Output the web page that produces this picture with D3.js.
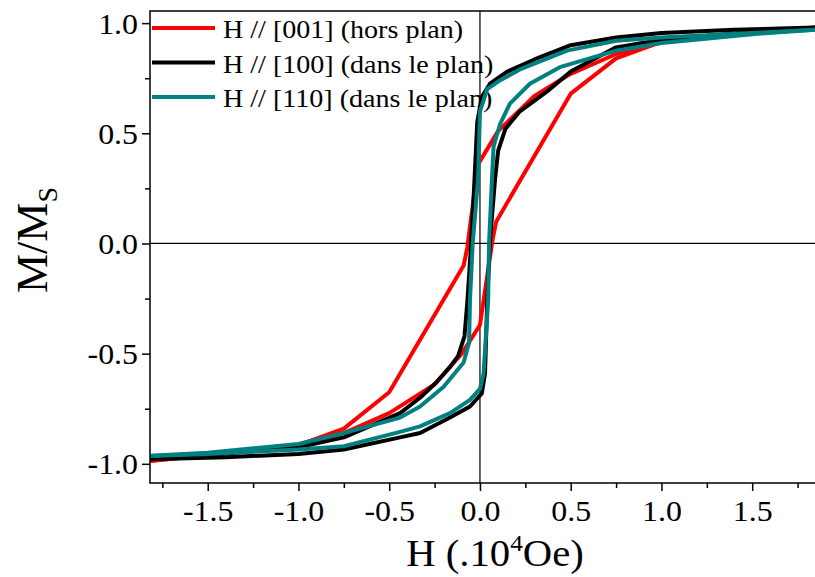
<!DOCTYPE html>
<html><head><meta charset="utf-8">
<script src="https://cdn.jsdelivr.net/npm/d3@7"></script>
<style>body{margin:0;background:#fff}svg{display:block}text{font-family:"Liberation Serif","Times New Roman",serif;fill:#000}</style>
</head><body>
<svg id="c" width="815" height="577"></svg>
<script>
// ---- data ----
const seriesNames = ["H // [001] (hors plan)", "H // [100] (dans le plan)", "H // [110] (dans le plan)"];
const seriesColors = ["#ff0000", "#000000", "#008080"];
const xTicks = [-1.5, -1.0, -0.5, 0.0, 0.5, 1.0, 1.5];
const xMinor = [-1.75, -1.25, -0.75, -0.25, 0.25, 0.75, 1.25, 1.75];
const yTicks = [-1.0, -0.5, 0.0, 0.5, 1.0];
const yMinor = [-0.75, -0.25, 0.25, 0.75];

const redDown = [[1.85,0.975],[1.5,0.955],[1.0,0.915],[0.75,0.86],[0.5,0.77],[0.3,0.67],[0.1,0.51],[-0.01,0.36],[-0.07,-0.02],[-0.09,-0.1],[-0.5,-0.675],[-0.75,-0.84],[-1.0,-0.915],[-1.5,-0.96],[-1.85,-0.99]];
const redUp = [[-1.85,-0.99],[-1.5,-0.96],[-1.0,-0.915],[-0.75,-0.86],[-0.5,-0.77],[-0.25,-0.64],[-0.1,-0.5],[0.0,-0.37],[0.07,0.02],[0.09,0.1],[0.5,0.68],[0.75,0.84],[1.0,0.915],[1.5,0.955],[1.85,0.975]];
const blackDown = [[1.85,0.98],[1.4,0.97],[1.0,0.955],[0.75,0.935],[0.5,0.9],[0.3,0.835],[0.15,0.78],[0.055,0.725],[0.01,0.665],[-0.015,0.55],[-0.03,0.29],[-0.05,-0.02],[-0.07,-0.27],[-0.085,-0.42],[-0.12,-0.51],[-0.165,-0.56],[-0.24,-0.63],[-0.33,-0.70],[-0.44,-0.77],[-0.75,-0.88],[-1.0,-0.925],[-1.5,-0.96],[-1.85,-0.98]];
const blackUp = [[-1.85,-0.98],[-1.4,-0.97],[-1.0,-0.955],[-0.75,-0.935],[-0.44,-0.88],[-0.33,-0.86],[-0.165,-0.79],[-0.055,-0.74],[0.01,-0.68],[0.028,-0.59],[0.04,-0.26],[0.055,0.01],[0.083,0.29],[0.1,0.42],[0.14,0.52],[0.22,0.6],[0.37,0.69],[0.5,0.78],[0.75,0.89],[1.0,0.925],[1.5,0.96],[1.85,0.98]];
const tealDown = [[1.85,0.97],[1.5,0.955],[1.0,0.935],[0.75,0.92],[0.48,0.875],[0.22,0.79],[0.11,0.74],[0.04,0.7],[0.0,0.6],[-0.01,0.3],[-0.04,0.0],[-0.055,-0.26],[-0.06,-0.45],[-0.09,-0.54],[-0.15,-0.6],[-0.2,-0.65],[-0.33,-0.74],[-0.44,-0.79],[-0.75,-0.86],[-1.0,-0.91],[-1.5,-0.95],[-1.85,-0.965]];
const tealUp = [[-1.85,-0.965],[-1.5,-0.955],[-1.0,-0.935],[-0.75,-0.92],[-0.44,-0.855],[-0.33,-0.83],[-0.165,-0.77],[-0.055,-0.71],[0.0,-0.66],[0.02,-0.59],[0.045,-0.26],[0.05,0.0],[0.066,0.29],[0.075,0.44],[0.11,0.54],[0.165,0.635],[0.275,0.725],[0.44,0.8],[0.75,0.875],[1.0,0.91],[1.5,0.95],[1.85,0.97]];

const loops = [[redDown, redUp], [blackDown, blackUp], [tealDown, tealUp]];

// ---- layout ----
const L = 150, R = 815, T = 11, B = 483;
const svg = d3.select("#c");
const x = d3.scaleLinear().domain([-1.818, 1.846]).range([L, R]);
const y = d3.scaleLinear().domain([-1.087, 1.055]).range([B, T]);
const SX = 1.1;
const fmt = d => d3.format(".1f")(d).replace("\u2212", "-");

function stretched(sel, px, py, anchor, size, sx) {
  return sel.append("text")
    .attr("transform", `translate(${px},${py}) scale(${sx},1)`)
    .attr("text-anchor", anchor).attr("font-size", size)
    .style("font-family", '"Liberation Serif","Times New Roman",serif');
}

svg.append("defs").append("clipPath").attr("id", "clip")
  .append("rect").attr("x", L).attr("y", T).attr("width", R - L + 5).attr("height", B - T);

// legend (drawn beneath lines)
const lg = svg.append("g");
seriesNames.forEach((n, i) => {
  const ly = 28 + i * 34.5;
  lg.append("line").attr("x1", 152).attr("x2", 215).attr("y1", ly).attr("y2", ly)
    .attr("stroke", seriesColors[i]).attr("stroke-width", 4);
  stretched(lg, 223, ly + 10, "start", 26, 1.08).text(n);
});

// zero lines
svg.append("line").attr("x1", L).attr("x2", R + 5).attr("y1", y(0)).attr("y2", y(0)).attr("stroke", "#000").attr("stroke-width", 1.2);
svg.append("line").attr("x1", x(0)).attr("x2", x(0)).attr("y1", T).attr("y2", B).attr("stroke", "#000").attr("stroke-width", 1.2);

// curves
const line = d3.line().x(d => x(d[0])).y(d => y(d[1]));
const cg = svg.append("g").attr("clip-path", "url(#clip)");
loops.forEach((lp, i) => {
  lp.forEach(br => {
    cg.append("path").attr("d", line(br)).attr("fill", "none")
      .attr("stroke", seriesColors[i]).attr("stroke-width", 4)
      .attr("stroke-linejoin", "round").attr("stroke-linecap", "round");
  });
});

// frame
svg.append("path").attr("d", `M${R + 5},${T}H${L}V${B}H${R + 5}`).attr("fill", "none").attr("stroke", "#000").attr("stroke-width", 1.5);

// axes ticks
const xa = d3.axisBottom(x).tickValues(xTicks).tickSize(8).tickFormat(fmt);
const xg = svg.append("g").attr("transform", `translate(0,${B})`).call(xa);
xg.select(".domain").remove();
xg.selectAll("line").attr("stroke-width", 1.5);
xg.selectAll("text").remove();
xg.selectAll(".tick").each(function(d) {
  stretched(d3.select(this), 0, 38, "middle", 29, SX).text(fmt(d));
});
const xm = d3.axisBottom(x).tickValues(xMinor).tickSize(5).tickFormat("");
const xmg = svg.append("g").attr("transform", `translate(0,${B})`).call(xm);
xmg.select(".domain").remove();
xmg.selectAll("line").attr("stroke-width", 1.5);

const ya = d3.axisLeft(y).tickValues(yTicks).tickSize(8).tickFormat(fmt);
const yg = svg.append("g").attr("transform", `translate(${L},0)`).call(ya);
yg.select(".domain").remove();
yg.selectAll("line").attr("stroke-width", 1.5);
yg.selectAll("text").remove();
yg.selectAll(".tick").each(function(d) {
  stretched(d3.select(this), -12, 10, "end", 29, SX).text(fmt(d));
});
const ym = d3.axisLeft(y).tickValues(yMinor).tickSize(5).tickFormat("");
const ymg = svg.append("g").attr("transform", `translate(${L},0)`).call(ym);
ymg.select(".domain").remove();
ymg.selectAll("line").attr("stroke-width", 1.5);

// axis titles
const xt = stretched(svg, 495, 566, "middle", 37, SX);
xt.append("tspan").text("H (.10");
xt.append("tspan").attr("font-size", 23).attr("dy", -15).text("4");
xt.append("tspan").attr("dy", 15).text("Oe)");

const yt = svg.append("text").attr("transform", "translate(47,240) rotate(-90)")
  .attr("text-anchor", "middle").attr("font-size", 44)
  .style("font-family", '"Liberation Serif","Times New Roman",serif');
yt.append("tspan").text("M/M");
yt.append("tspan").attr("font-size", 28).attr("dy", 10).text("S");
</script>
</body></html>
